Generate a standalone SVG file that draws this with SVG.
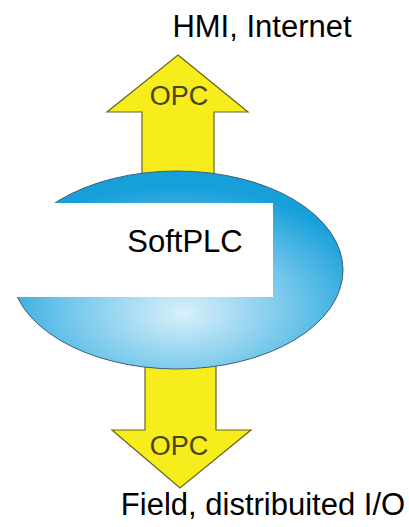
<svg xmlns="http://www.w3.org/2000/svg" width="409" height="527" viewBox="0 0 409 527">
  <defs>
    <radialGradient id="blueGrad" cx="0.5" cy="0.68" r="0.6" fx="0.52" fy="0.72">
      <stop offset="0" stop-color="#d8f0fa"/>
      <stop offset="0.6" stop-color="#6cc4ea"/>
      <stop offset="1" stop-color="#179fda"/>
    </radialGradient>
  </defs>
  <style>
    .arrow { fill: #f7ec1c; stroke: #6b6420; stroke-width: 1.2; stroke-linejoin: miter; }
    .opc { font-family: "Liberation Sans", Arial, sans-serif; font-size: 27px; fill: #4a4415; text-anchor: middle; }
    .label { font-family: "Liberation Sans", Arial, sans-serif; font-size: 31px; fill: #000000; }
  </style>
  <rect width="409" height="527" fill="#ffffff"/>
  <g id="connectors">
    <g id="arrow-up">
      <polygon class="arrow" points="178,55 248,112 214,112 214,180 142,180 142,112 107,112"/>
      <text class="opc" x="179" y="105">OPC</text>
    </g>
    <g id="arrow-down">
      <polygon class="arrow" points="145,360 216,360 216,430 251,430 180,488 112,430 145,430"/>
      <text class="opc" x="179" y="455">OPC</text>
    </g>
  </g>
  <g id="softplc">
    <ellipse cx="177" cy="270" rx="166" ry="99" fill="url(#blueGrad)" stroke="#3d5f75" stroke-width="1"/>
    <rect x="0" y="203" width="273" height="94" fill="#ffffff"/>
    <text class="label" x="185" y="252" text-anchor="middle">SoftPLC</text>
  </g>
  <g id="hmi">
    <text class="label" x="262" y="37" text-anchor="middle">HMI, Internet</text>
  </g>
  <g id="field">
    <text class="label" x="263" y="515" text-anchor="middle" font-size="29.5">Field, distribuited I/O</text>
  </g>
</svg>
